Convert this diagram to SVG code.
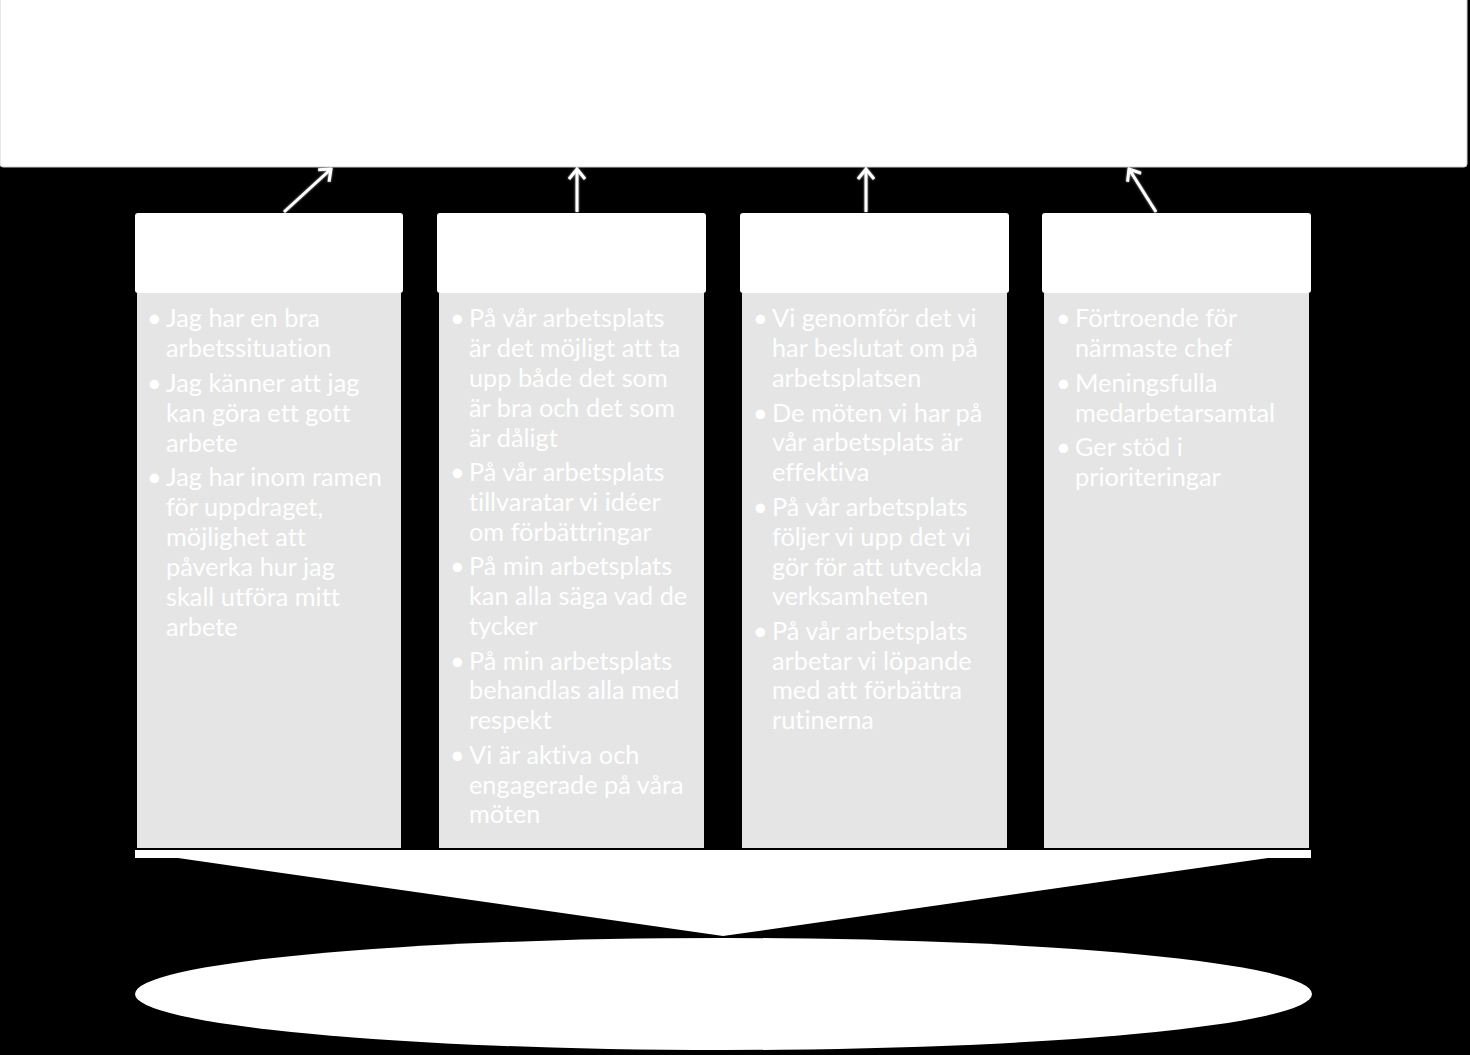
<svg xmlns="http://www.w3.org/2000/svg" width="1470" height="1055" viewBox="0 0 1470 1055">
  <defs>
    <style>
      .head { fill: #ffffff; }
      .body { fill: #e5e5e5; }
      .txt { font-family: Lato, "Open Sans", "Liberation Sans", sans-serif; font-size: 25.3px; fill: #ffffff; font-variant-ligatures: none; font-feature-settings: "liga" 0, "clig" 0; }
      .conn { stroke: #ffffff; stroke-width: 3; fill: none; marker-end: url(#arr); }
    </style>
    <marker id="arr" viewBox="-12 -9 14 18" refX="0" refY="0" markerWidth="14" markerHeight="18" markerUnits="userSpaceOnUse" orient="auto">
      <path d="M-10,-8 L0,0 L-10,8" fill="none" stroke="#ffffff" stroke-width="3"/>
    </marker>
    <filter id="glow" x="-20%" y="-20%" width="140%" height="140%">
      <feGaussianBlur stdDeviation="1.2"/>
    </filter>
  </defs>
  <rect x="0" y="0" width="1470" height="1055" fill="#000000"/>

  <g id="top-box">
    <rect x="0" y="-4" width="1467" height="171" rx="3" fill="#ffffff" stroke="#cfcfcf" stroke-width="1"/>
  </g>

  <g id="connectors">
    <g filter="url(#glow)" opacity="0.7">
      <line x1="284" y1="212" x2="331" y2="169" class="conn"/>
      <line x1="577" y1="212" x2="577" y2="169" class="conn"/>
      <line x1="866" y1="212" x2="866" y2="169" class="conn"/>
      <line x1="1156" y1="212" x2="1129" y2="169" class="conn"/>
    </g>
    <line x1="284" y1="212" x2="331" y2="169" class="conn"/>
    <line x1="577" y1="212" x2="577" y2="169" class="conn"/>
    <line x1="866" y1="212" x2="866" y2="169" class="conn"/>
    <line x1="1156" y1="212" x2="1129" y2="169" class="conn"/>
  </g>

  <g id="col1">
    <rect class="head" x="135" y="213" width="268" height="80" rx="3"/>
    <rect class="body" x="137" y="293" width="264" height="555"/>
    <text class="txt">
      <tspan x="147" y="327">•</tspan><tspan x="166" y="327">Jag har en bra</tspan>
      <tspan x="166" y="357">arbetssituation</tspan>
      <tspan x="147" y="392">•</tspan><tspan x="166" y="392">Jag känner att jag</tspan>
      <tspan x="166" y="422">kan göra ett gott</tspan>
      <tspan x="166" y="452">arbete</tspan>
      <tspan x="147" y="486">•</tspan><tspan x="166" y="486">Jag har inom ramen</tspan>
      <tspan x="166" y="516">för uppdraget,</tspan>
      <tspan x="166" y="546">möjlighet att</tspan>
      <tspan x="166" y="576">påverka hur jag</tspan>
      <tspan x="166" y="606">skall utföra mitt</tspan>
      <tspan x="166" y="636">arbete</tspan>
    </text>
  </g>

  <g id="col2">
    <rect class="head" x="437" y="213" width="269" height="80" rx="3"/>
    <rect class="body" x="439" y="293" width="265" height="555"/>
    <text class="txt">
      <tspan x="450" y="327">•</tspan><tspan x="469" y="327">På vår arbetsplats</tspan>
      <tspan x="469" y="357">är det möjligt att ta</tspan>
      <tspan x="469" y="387">upp både det som</tspan>
      <tspan x="469" y="417">är bra och det som</tspan>
      <tspan x="469" y="447">är dåligt</tspan>
      <tspan x="450" y="481">•</tspan><tspan x="469" y="481">På vår arbetsplats</tspan>
      <tspan x="469" y="511">tillvaratar vi idéer</tspan>
      <tspan x="469" y="541">om förbättringar</tspan>
      <tspan x="450" y="575">•</tspan><tspan x="469" y="575">På min arbetsplats</tspan>
      <tspan x="469" y="605">kan alla säga vad de</tspan>
      <tspan x="469" y="635">tycker</tspan>
      <tspan x="450" y="670">•</tspan><tspan x="469" y="670">På min arbetsplats</tspan>
      <tspan x="469" y="699">behandlas alla med</tspan>
      <tspan x="469" y="729">respekt</tspan>
      <tspan x="450" y="764">•</tspan><tspan x="469" y="764">Vi är aktiva och</tspan>
      <tspan x="469" y="794">engagerade på våra</tspan>
      <tspan x="469" y="823">möten</tspan>
    </text>
  </g>

  <g id="col3">
    <rect class="head" x="740" y="213" width="269" height="80" rx="3"/>
    <rect class="body" x="742" y="293" width="265" height="555"/>
    <text class="txt">
      <tspan x="753" y="327">•</tspan><tspan x="772" y="327">Vi genomför det vi</tspan>
      <tspan x="772" y="357">har beslutat om på</tspan>
      <tspan x="772" y="387">arbetsplatsen</tspan>
      <tspan x="753" y="422">•</tspan><tspan x="772" y="422">De möten vi har på</tspan>
      <tspan x="772" y="451">vår arbetsplats är</tspan>
      <tspan x="772" y="481">effektiva</tspan>
      <tspan x="753" y="516">•</tspan><tspan x="772" y="516">På vår arbetsplats</tspan>
      <tspan x="772" y="546">följer vi upp det vi</tspan>
      <tspan x="772" y="576">gör för att utveckla</tspan>
      <tspan x="772" y="605">verksamheten</tspan>
      <tspan x="753" y="640">•</tspan><tspan x="772" y="640">På vår arbetsplats</tspan>
      <tspan x="772" y="670">arbetar vi löpande</tspan>
      <tspan x="772" y="699">med att förbättra</tspan>
      <tspan x="772" y="729">rutinerna</tspan>
    </text>
  </g>

  <g id="col4">
    <rect class="head" x="1042" y="213" width="269" height="80" rx="3"/>
    <rect class="body" x="1044" y="293" width="265" height="555"/>
    <text class="txt">
      <tspan x="1056" y="327">•</tspan><tspan x="1075" y="327">Förtroende  för</tspan>
      <tspan x="1075" y="357">närmaste chef</tspan>
      <tspan x="1056" y="392">•</tspan><tspan x="1075" y="392">Meningsfulla</tspan>
      <tspan x="1075" y="422">medarbetarsamtal</tspan>
      <tspan x="1056" y="456">•</tspan><tspan x="1075" y="456">Ger stöd i</tspan>
      <tspan x="1075" y="486">prioriteringar</tspan>
    </text>
  </g>

  <g id="chevron">
    <polygon points="135,850 1311,850 1311,858 1268,858 723,936 178,858 135,858" fill="#ffffff"/>
  </g>

  <g id="base-ellipse">
    <ellipse cx="723.5" cy="994" rx="588.5" ry="56" fill="#ffffff"/>
  </g>
</svg>
